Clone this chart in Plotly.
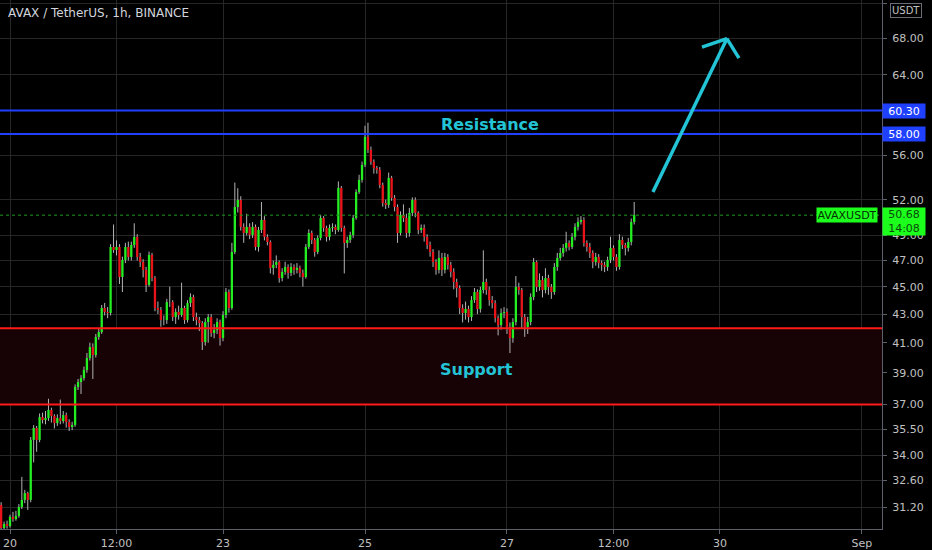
import math

import pandas as pd
import plotly.graph_objects as go

# hourly AVAX/USDT candles (first candle starts 2021-08-19 21:00)
first_open = 31.30
closes = [
    30.13, 30.33, 30.23, 30.69, 30.58, 30.74, 31.20, 31.57, 31.93, 31.57,
    34.88, 35.58, 34.88, 36.23, 36.05, 36.17, 36.66, 36.29, 35.87, 36.17,
    35.99, 36.35, 35.93, 35.64, 35.76, 38.09, 38.40, 38.66, 39.18, 39.97,
    40.70, 40.17, 41.39, 41.73, 43.43, 43.15, 43.07, 48.07, 47.83, 48.07,
    45.73, 47.04, 48.07, 47.28, 48.23, 48.88, 47.28, 46.88, 46.27, 45.13,
    47.44, 45.65, 43.43, 43.29, 42.57, 42.57, 43.86, 43.86, 42.78, 43.15,
    42.93, 43.43, 42.57, 43.79, 44.23, 42.78, 42.57, 42.36, 41.04, 42.43,
    42.78, 41.66, 41.87, 42.43, 41.32, 42.93, 44.60, 43.43, 47.67, 51.37,
    51.98, 49.70, 49.20, 49.70, 49.04, 49.70, 48.07, 49.45, 50.28, 48.88,
    48.47, 46.43, 46.66, 46.88, 45.65, 46.12, 46.50, 46.04, 46.50, 46.27,
    46.43, 46.04, 45.73, 48.07, 49.20, 48.63, 47.67, 48.79, 50.45, 49.62,
    48.88, 49.62, 49.70, 49.45, 53.03, 49.62, 48.39, 48.63, 49.04, 50.45,
    52.67, 53.74, 55.10, 57.73, 56.49, 55.38, 54.82, 54.64, 53.29, 51.72,
    51.55, 53.92, 52.15, 51.37, 49.20, 50.70, 50.45, 49.20, 50.87, 51.98,
    50.87, 49.45, 49.62, 48.88, 48.23, 47.67, 46.88, 46.27, 47.20, 46.27,
    47.28, 46.66, 46.12, 45.35, 44.90, 43.43, 43.07, 43.36, 42.78, 44.01,
    44.60, 43.36, 44.75, 45.35, 44.75, 44.01, 43.79, 42.71, 42.22, 43.07,
    43.15, 42.08, 41.32, 42.43, 44.98, 44.75, 42.78, 42.08, 42.43, 44.23,
    46.88, 44.98, 45.50, 44.75, 45.65, 44.98, 44.60, 46.50, 47.20, 47.59,
    47.99, 48.39, 48.07, 48.88, 49.70, 50.11, 50.28, 48.39, 48.07, 47.59,
    46.88, 47.28, 46.81, 46.66, 46.50, 47.04, 47.99, 47.28, 46.50, 48.63,
    48.23, 47.99, 48.47, 50.11, 50.68,
]
highs = [
    31.45, 30.45, 30.50, 30.80, 30.95, 31.00, 31.35, 32.80, 32.10, 32.00,
    35.05, 35.75, 35.70, 36.45, 36.50, 36.60, 37.35, 36.80, 36.40, 36.40,
    37.30, 36.60, 36.50, 36.10, 35.95, 38.25, 38.60, 38.85, 39.40, 40.30,
    41.00, 40.95, 41.60, 42.00, 43.65, 43.80, 43.50, 48.30, 49.90, 48.60,
    48.30, 47.30, 48.40, 48.50, 48.50, 50.00, 49.10, 47.60, 47.10, 46.50,
    47.70, 47.60, 45.80, 43.90, 43.50, 42.90, 44.10, 45.00, 44.00, 43.40,
    43.60, 45.30, 43.60, 44.00, 44.50, 44.40, 43.10, 42.80, 42.50, 42.70,
    43.00, 43.00, 42.30, 42.70, 42.60, 43.20, 44.90, 44.80, 48.40, 53.50,
    53.00, 52.30, 50.00, 50.80, 50.00, 50.10, 49.90, 49.70, 51.80, 50.60,
    49.10, 48.60, 47.00, 47.40, 47.00, 46.40, 46.90, 46.70, 46.80, 46.70,
    46.80, 46.60, 46.30, 48.30, 49.50, 49.40, 48.80, 49.00, 50.70, 50.60,
    49.80, 49.90, 50.00, 49.90, 53.60, 53.20, 49.80, 48.90, 49.30, 50.70,
    52.90, 54.20, 55.40, 58.80, 59.10, 56.80, 55.60, 55.00, 54.90, 53.50,
    52.00, 54.40, 54.10, 52.40, 51.60, 51.00, 51.60, 50.80, 51.30, 52.20,
    52.20, 51.00, 49.90, 49.90, 49.10, 48.50, 47.90, 47.10, 47.80, 47.60,
    47.60, 47.50, 46.90, 46.40, 45.60, 45.10, 43.70, 43.90, 43.60, 44.30,
    44.90, 44.80, 45.00, 47.80, 45.60, 45.00, 44.30, 44.00, 42.90, 43.40,
    43.50, 43.40, 42.40, 42.70, 45.80, 45.30, 44.90, 43.00, 42.80, 44.50,
    47.20, 47.00, 46.00, 45.80, 46.40, 45.90, 45.20, 46.80, 47.60, 48.00,
    48.30, 49.30, 48.60, 49.20, 50.00, 50.50, 50.60, 50.50, 48.60, 48.40,
    47.80, 47.60, 47.50, 47.00, 46.90, 47.30, 48.90, 48.20, 47.50, 49.10,
    48.90, 48.40, 48.80, 50.40, 51.80,
]
lows = [
    30.05, 30.00, 30.10, 30.15, 30.45, 30.50, 30.65, 31.10, 31.40, 31.05,
    31.45, 33.60, 34.20, 34.75, 35.85, 35.80, 36.00, 35.90, 35.55, 35.70,
    35.80, 35.85, 35.60, 35.40, 35.45, 35.65, 37.90, 37.65, 38.50, 39.00,
    39.80, 38.60, 40.00, 41.20, 41.60, 42.90, 42.70, 42.90, 47.60, 47.40,
    45.20, 44.60, 46.80, 47.00, 47.00, 48.00, 47.00, 46.50, 45.70, 44.60,
    45.00, 45.40, 43.20, 43.00, 42.10, 42.20, 42.30, 43.50, 42.50, 42.30,
    42.60, 42.80, 42.30, 42.40, 43.50, 42.50, 42.20, 41.80, 40.50, 40.80,
    41.00, 41.40, 41.30, 41.60, 40.80, 41.10, 42.70, 43.10, 43.30, 47.50,
    50.90, 49.40, 48.40, 49.00, 48.70, 48.80, 47.80, 47.70, 49.20, 48.60,
    48.20, 46.00, 45.90, 46.40, 45.30, 45.40, 45.90, 45.60, 45.80, 45.90,
    46.00, 45.70, 45.00, 45.60, 47.90, 48.30, 47.30, 47.50, 48.60, 49.30,
    48.50, 48.60, 49.30, 49.10, 49.30, 49.30, 46.00, 48.00, 48.40, 48.80,
    50.30, 52.50, 53.50, 54.90, 56.20, 55.10, 54.30, 54.30, 53.00, 51.40,
    51.20, 51.30, 51.90, 51.00, 48.40, 49.00, 50.10, 48.80, 48.90, 50.60,
    50.50, 49.10, 49.20, 48.50, 47.90, 47.30, 46.50, 45.90, 46.00, 45.80,
    46.00, 46.30, 45.70, 44.80, 44.20, 43.00, 42.40, 42.60, 42.40, 42.50,
    43.80, 43.00, 43.10, 44.50, 44.40, 43.60, 43.40, 42.40, 41.50, 41.90,
    42.70, 41.60, 40.30, 41.00, 42.20, 44.40, 42.00, 41.40, 41.60, 42.20,
    44.00, 44.60, 44.70, 44.20, 44.50, 44.40, 44.10, 44.40, 46.20, 47.00,
    47.30, 47.70, 47.80, 47.90, 48.60, 49.40, 49.90, 48.10, 47.70, 47.20,
    46.40, 46.60, 46.40, 46.20, 46.10, 46.20, 46.80, 47.00, 46.20, 46.30,
    47.90, 47.40, 47.70, 48.20, 49.90,
]

support_top = 42.0
support_bottom = 37.0
resistance_levels = [60.30, 58.00]
last_price = 50.68

# hand drawn arrow: tail -> tip, then the two barbs of the head
arrow_times = ["2021-08-29 01:20", "2021-08-30 02:20", "2021-08-29 17:55", None,
               "2021-08-30 02:20", "2021-08-30 06:25"]
arrow_prices = [52.67, 67.96, 67.00, None, 67.96, 65.79]

x_ticks = ["2021-08-20", "2021-08-21 12:00", "2021-08-23", "2021-08-25",
           "2021-08-27", "2021-08-28 12:00", "2021-08-30", "2021-09-01"]
x_tick_labels = ["20", "12:00", "23", "25", "27", "12:00", "30", "Sep"]
y_ticks = [31.2, 32.6, 34.0, 35.5, 37.0, 39.0, 41.0, 43.0, 45.0, 47.0, 49.0,
           52.0, 56.0, 64.0, 68.0, 72.0]

X_RANGE = ["2021-08-19 20:37", "2021-09-01 06:46"]
Y_RANGE = [30.08, 72.47]

GREEN = "#22ee22"
RED = "#e8141a"
WICK = "#b4b4b4"
BLUE = "#2040ff"
CYAN = "#22c4d6"
GRID = "#262626"
AXIS = "#5d606b"
TEXT = "#c0c0c0"
FONT = "DejaVu Sans"


def body_segments(times, opens, closes, rising):
    xs, ys = [], []
    for t, o, c in zip(times, opens, closes):
        if (c >= o) == rising:
            xs += [t, t, None]
            ys += [o, c, None]
    return xs, ys


def main() -> None:
    times = pd.date_range("2021-08-19 21:00", periods=len(closes), freq="h")
    opens = [first_open] + closes[:-1]

    fig = go.Figure()

    # support zone background
    fig.add_scatter(x=X_RANGE, y=[support_bottom] * 2, mode="lines",
                    line={"width": 0}, hoverinfo="skip")
    fig.add_scatter(x=X_RANGE, y=[support_top] * 2, mode="lines", line={"width": 0},
                    fill="tonexty", fillcolor="#170305", hoverinfo="skip")

    # wicks
    wick_x, wick_y = [], []
    for t, lo, hi in zip(times, lows, highs):
        wick_x += [t, t, None]
        wick_y += [lo, hi, None]
    fig.add_scatter(x=wick_x, y=wick_y, mode="lines", line={"color": WICK, "width": 1},
                    hoverinfo="skip")

    # bodies, drawn as thick segments so they sit above the wicks
    for rising, colour in ((True, GREEN), (False, RED)):
        bx, by = body_segments(times, opens, closes, rising)
        fig.add_scatter(x=bx, y=by, mode="lines", line={"color": colour, "width": 2.3},
                        hoverinfo="skip")

    # level lines
    for level in (support_top, support_bottom):
        fig.add_scatter(x=X_RANGE, y=[level] * 2, mode="lines",
                        line={"color": "#ff1a1a", "width": 2}, hoverinfo="skip")
    for level in resistance_levels:
        fig.add_scatter(x=X_RANGE, y=[level] * 2, mode="lines",
                        line={"color": BLUE, "width": 2}, hoverinfo="skip")
    fig.add_scatter(x=X_RANGE, y=[last_price] * 2, mode="lines",
                    line={"color": "#1f9a1f", "width": 1, "dash": "dot"}, hoverinfo="skip")

    fig.add_scatter(x=arrow_times, y=arrow_prices, mode="lines",
                    line={"color": CYAN, "width": 3.5}, hoverinfo="skip")

    # labels on the chart
    fig.add_annotation(x="2021-08-26 18:15", y=math.log10(58.95), text="<b>Resistance</b>",
                       showarrow=False, font={"family": FONT, "size": 16, "color": CYAN})
    fig.add_annotation(x="2021-08-26 13:50", y=math.log10(39.18), text="<b>Support</b>",
                       showarrow=False, font={"family": FONT, "size": 16, "color": CYAN})
    fig.add_annotation(xref="paper", yref="paper", x=0, y=1, xanchor="left", yanchor="top",
                       xshift=6, yshift=-4, text="AVAX / TetherUS, 1h, BINANCE", showarrow=False,
                       font={"family": FONT, "size": 12, "color": "#d1d4dc"})

    # price scale labels
    for level in resistance_levels:
        fig.add_annotation(xref="paper", x=1, y=math.log10(level), xanchor="left",
                           text=f"{level:.2f}", showarrow=False, bgcolor=BLUE,
                           width=40, height=12, borderpad=1,
                           font={"family": FONT, "size": 11, "color": "#ffffff"})
    fig.add_annotation(xref="paper", x=1, y=math.log10(last_price), xanchor="left",
                       yanchor="top", yshift=8, text=f"{last_price:.2f}<br>14:08",
                       showarrow=False, bgcolor="#1cff1c", width=40, height=25, borderpad=1,
                       font={"family": FONT, "size": 11, "color": "#0b4a0b"})
    fig.add_annotation(xref="paper", x=1, y=math.log10(last_price), xanchor="right",
                       xshift=-4, text="AVAXUSDT", showarrow=False, bgcolor="#1cff1c",
                       width=58, height=12, borderpad=1,
                       font={"family": FONT, "size": 11, "color": "#062e06"})
    fig.add_annotation(xref="paper", yref="paper", x=1, y=1, xanchor="left", yanchor="top",
                       xshift=8, yshift=-3, text="USDT", showarrow=False, bgcolor="#000000",
                       bordercolor="#6a6d78", borderwidth=1, borderpad=1,
                       font={"family": FONT, "size": 10, "color": TEXT})

    fig.update_layout(
        width=932,
        height=550,
        margin={"l": 0, "r": 50, "t": 0, "b": 21},
        paper_bgcolor="#000000",
        plot_bgcolor="#000000",
        showlegend=False,
    )
    fig.update_xaxes(
        type="date",
        range=X_RANGE,
        tickvals=x_ticks,
        ticktext=x_tick_labels,
        showgrid=True,
        gridcolor=GRID,
        showline=True,
        linecolor=AXIS,
        ticks="outside",
        ticklen=4,
        tickcolor=AXIS,
        tickfont={"family": FONT, "size": 11, "color": TEXT},
        zeroline=False,
    )
    fig.update_yaxes(
        type="log",
        side="right",
        range=[math.log10(Y_RANGE[0]), math.log10(Y_RANGE[1])],
        tickvals=y_ticks,
        ticktext=[f"{v:.2f}" for v in y_ticks],
        showgrid=True,
        gridcolor=GRID,
        showline=True,
        linecolor=AXIS,
        ticks="outside",
        ticklen=4,
        tickcolor=AXIS,
        ticklabelstandoff=3,
        tickfont={"family": FONT, "size": 11, "color": TEXT},
        zeroline=False,
    )
    # the page body has a default 8px margin; drop it so the chart fills the window
    fig.write_html("out.html", config={"displayModeBar": False},
                   post_script="document.body.style.margin = '0';")


if __name__ == "__main__":
    main()
